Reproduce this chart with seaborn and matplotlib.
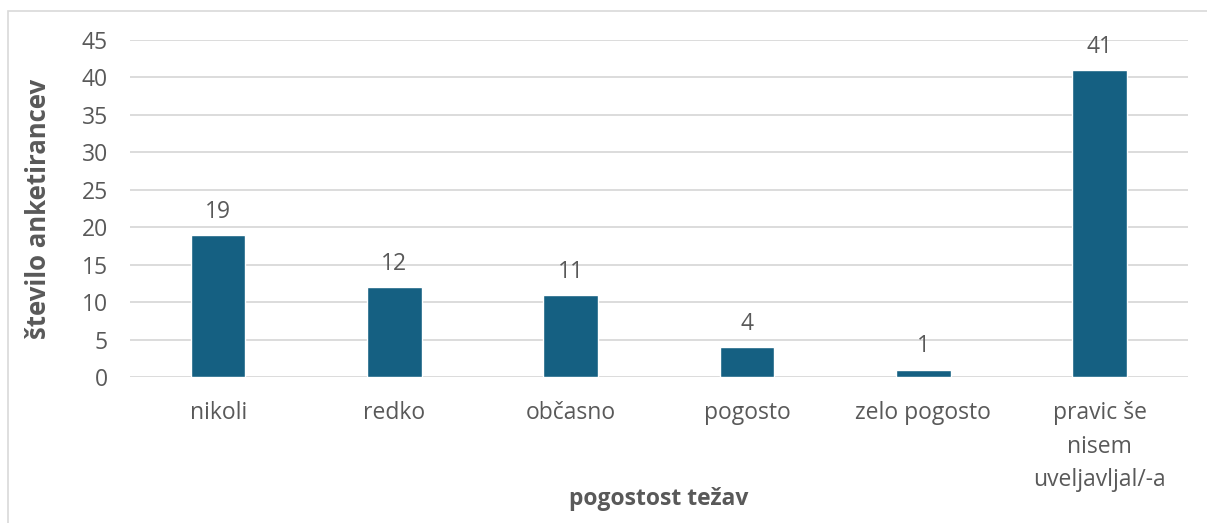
import matplotlib
matplotlib.use("Agg")
import matplotlib.pyplot as plt
import seaborn as sns
import pandas as pd
from matplotlib.patches import Rectangle

# podatki
kategorije = ["nikoli", "redko", "občasno", "pogosto", "zelo pogosto",
              "pravic še\nnisem\nuveljavljal/-a"]
stevilo = [19, 12, 11, 4, 1, 41]
y_ticks = [0, 5, 10, 15, 20, 25, 30, 35, 40, 45]

BAR = "#156082"
TXT = "#595959"
GRID = "#D9D9D9"
FS = 16.5

sns.set_theme(style="white")
plt.rcParams["font.family"] = ["Open Sans", "DejaVu Sans"]

df = pd.DataFrame({"kat": kategorije, "n": stevilo})

fig = plt.figure(figsize=(12.07, 5.23), dpi=100)
ax = fig.add_axes([0.1077, 0.279, 0.8763, 0.6445])

sns.barplot(data=df, x="kat", y="n", color=BAR, width=0.31, ax=ax,
            saturation=1, zorder=3)

ax.set_ylim(0, 45)
ax.set_yticks(y_ticks)
ax.set_xlim(-0.5, len(kategorije) - 0.5)
ax.grid(axis="y", color=GRID, linewidth=1.3, zorder=0)
ax.set_axisbelow(True)
for s in ax.spines.values():
    s.set_visible(False)
ax.tick_params(axis="both", length=0, colors=TXT, labelsize=FS)
ax.tick_params(axis="y", pad=16)
ax.tick_params(axis="x", pad=17)
for lbl in ax.get_xticklabels():
    lbl.set_linespacing(1.55)
    lbl.set_verticalalignment("top")

ax.bar_label(ax.containers[0], labels=[str(v) for v in stevilo],
             padding=8, fontsize=FS, color=TXT)

ax.set_xlabel("pogostost težav", fontsize=FS, fontweight="bold", color=TXT)
ax.set_ylabel("število anketirancev", fontsize=18.5, fontweight="bold", color=TXT)
ax.xaxis.set_label_coords(0.5, -0.325)
ax.yaxis.set_label_coords(-0.074, 0.5)

# okvir grafikona
fig.patches.append(Rectangle((8 / 1207, -0.05), 1.1, (523 - 11) / 523 + 0.05,
                             transform=fig.transFigure, fill=False,
                             edgecolor=GRID, linewidth=1.2))

fig.savefig("out.png", dpi=100)
